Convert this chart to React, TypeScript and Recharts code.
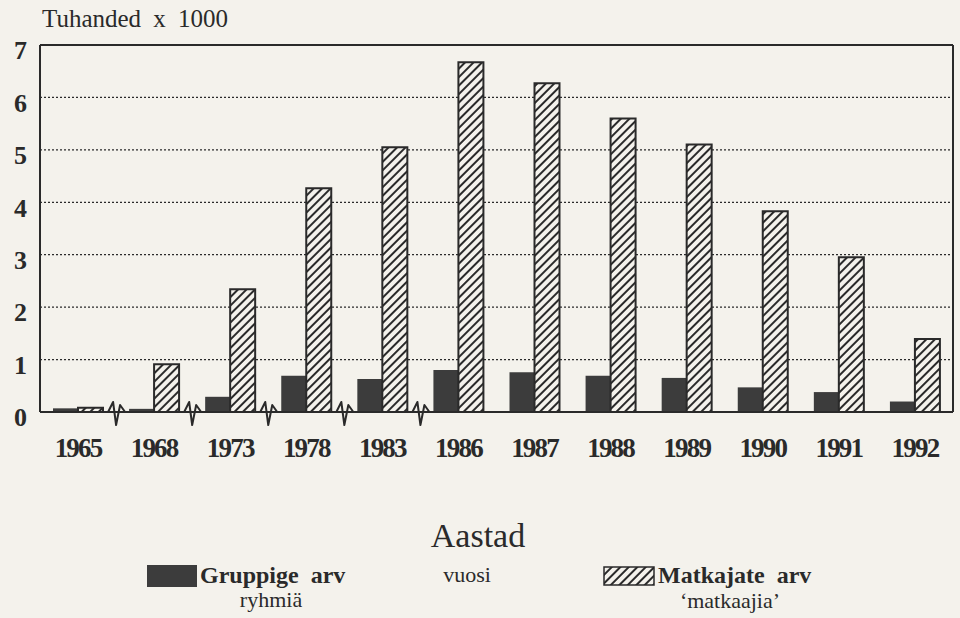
import React from "react";
import { BarChart, Bar, XAxis, YAxis, CartesianGrid, ReferenceLine } from "recharts";

const years = ["1965", "1968", "1973", "1978", "1983", "1986", "1987", "1988", "1989", "1990", "1991", "1992"];
const gruppige = [0.07, 0.06, 0.29, 0.69, 0.63, 0.8, 0.76, 0.69, 0.65, 0.47, 0.38, 0.2];
const matkajate = [0.08, 0.91, 2.34, 4.27, 5.05, 6.67, 6.27, 5.6, 5.1, 3.83, 2.95, 1.39];
const yTicks = [0, 1, 2, 3, 4, 5, 6, 7];
// axis breaks sit at the start of these categories
const breakYears = ["1968", "1973", "1978", "1983", "1986"];

const seriesNames = { gruppige: "Gruppige arv", matkajate: "Matkajate arv" };
const seriesSub = { gruppige: "ryhmiä", matkajate: "\u2018matkaajia\u2019" };

const data = years.map((year, i) => ({ year, gruppige: gruppige[i], matkajate: matkajate[i] }));

const BG = "#f4f2ec";
const INK = "#2a2a2a";
const DARK = "#3c3c3c";
const SERIF = "'Liberation Serif', 'DejaVu Serif', serif";

// zigzag break mark on the x axis
const BreakMark = (props: any) => {
    const x = props.x1;
    const y = Math.max(props.y1, props.y2);
    const pts = `${x - 8},${y} ${x - 3},${y - 10} ${x},${y + 13} ${x + 4},${y - 7} ${x + 9},${y}`;
    return <polyline points={pts} fill="none" stroke={INK} strokeWidth={2} strokeLinejoin="round" />;
};

// y labels in the scan sit a little below their grid lines
const YTick = ({ x, y, payload }: any) => (
    <text x={x} y={y + 5} dy="0.355em" textAnchor="end" fill={INK} fontSize={26} fontWeight="bold" fontFamily={SERIF}>
        {payload.value}
    </text>
);

const text = (fs: number, extra: React.CSSProperties = {}): React.CSSProperties => ({
    position: "absolute",
    fontFamily: SERIF,
    fontSize: fs,
    lineHeight: `${fs}px`,
    color: INK,
    whiteSpace: "nowrap",
    ...extra,
});

export default function App() {
    return (
        <div style={{ position: "absolute", left: 0, top: 0, width: 960, height: 618, background: BG, overflow: "hidden" }}>
            <svg width={0} height={0} style={{ position: "absolute" }}>
                <defs>
                    <pattern id="hatch" width="6" height="6" patternUnits="userSpaceOnUse" patternTransform="rotate(45)">
                        <rect width="6" height="6" fill={BG} />
                        <line x1="1" y1="0" x2="1" y2="6" stroke={INK} strokeWidth="2" />
                    </pattern>
                </defs>
            </svg>

            <BarChart
                width={960}
                height={618}
                data={data}
                margin={{ top: 45, right: 7, left: 0, bottom: 0 }}
                barGap={0}
                barSize={25}
            >
                <CartesianGrid vertical={false} stroke={INK} strokeDasharray="2 2" strokeWidth={1.2} />
                <XAxis
                    dataKey="year"
                    height={206}
                    axisLine={{ stroke: INK, strokeWidth: 2 }}
                    tickLine={false}
                    tickSize={0}
                    tickMargin={26}
                    interval={0}
                    tick={{ fill: INK, fontSize: 27, fontWeight: "bold", fontFamily: SERIF, letterSpacing: -1.8 }}
                />
                <YAxis
                    width={40}
                    domain={[0, 7]}
                    ticks={yTicks}
                    axisLine={{ stroke: INK, strokeWidth: 2 }}
                    tickLine={false}
                    tickSize={0}
                    tickMargin={13}
                    tick={<YTick />}
                />
                <ReferenceLine y={7} stroke={INK} strokeWidth={2} />
                <ReferenceLine x="1992" position="end" stroke={INK} strokeWidth={2} />
                {breakYears.map(y => (
                    <ReferenceLine key={y} x={y} position="start" shape={BreakMark} />
                ))}
                <Bar dataKey="gruppige" name={seriesNames.gruppige} fill={DARK} isAnimationActive={false} />
                <Bar dataKey="matkajate" name={seriesNames.matkajate} fill="url(#hatch)" stroke={INK} strokeWidth={2} isAnimationActive={false} />
            </BarChart>

            {/* title and axis captions */}
            <div style={text(25, { left: 42, top: 6, wordSpacing: 6 })}>Tuhanded x 1000</div>
            <div style={text(34, { left: 378, top: 519, width: 200, textAlign: "center" })}>Aastad</div>
            <div style={text(22, { left: 417, top: 564, width: 100, textAlign: "center" })}>vuosi</div>

            {/* legend */}
            <div style={{ position: "absolute", left: 147, top: 565, width: 50, height: 22, background: DARK }} />
            <div style={text(24, { left: 200, top: 563, fontWeight: "bold", wordSpacing: 6 })}>{seriesNames.gruppige}</div>
            <div style={text(22, { left: 221, top: 589, width: 100, textAlign: "center" })}>{seriesSub.gruppige}</div>

            <svg width={52} height={20} style={{ position: "absolute", left: 603, top: 566 }}>
                <rect x={1} y={1} width={50} height={18} fill="url(#hatch)" stroke={INK} strokeWidth={1.5} />
            </svg>
            <div style={text(24, { left: 658, top: 563, fontWeight: "bold", wordSpacing: 6 })}>{seriesNames.matkajate}</div>
            <div style={text(22, { left: 670, top: 590, width: 120, textAlign: "center" })}>{seriesSub.matkajate}</div>
        </div>
    );
}
